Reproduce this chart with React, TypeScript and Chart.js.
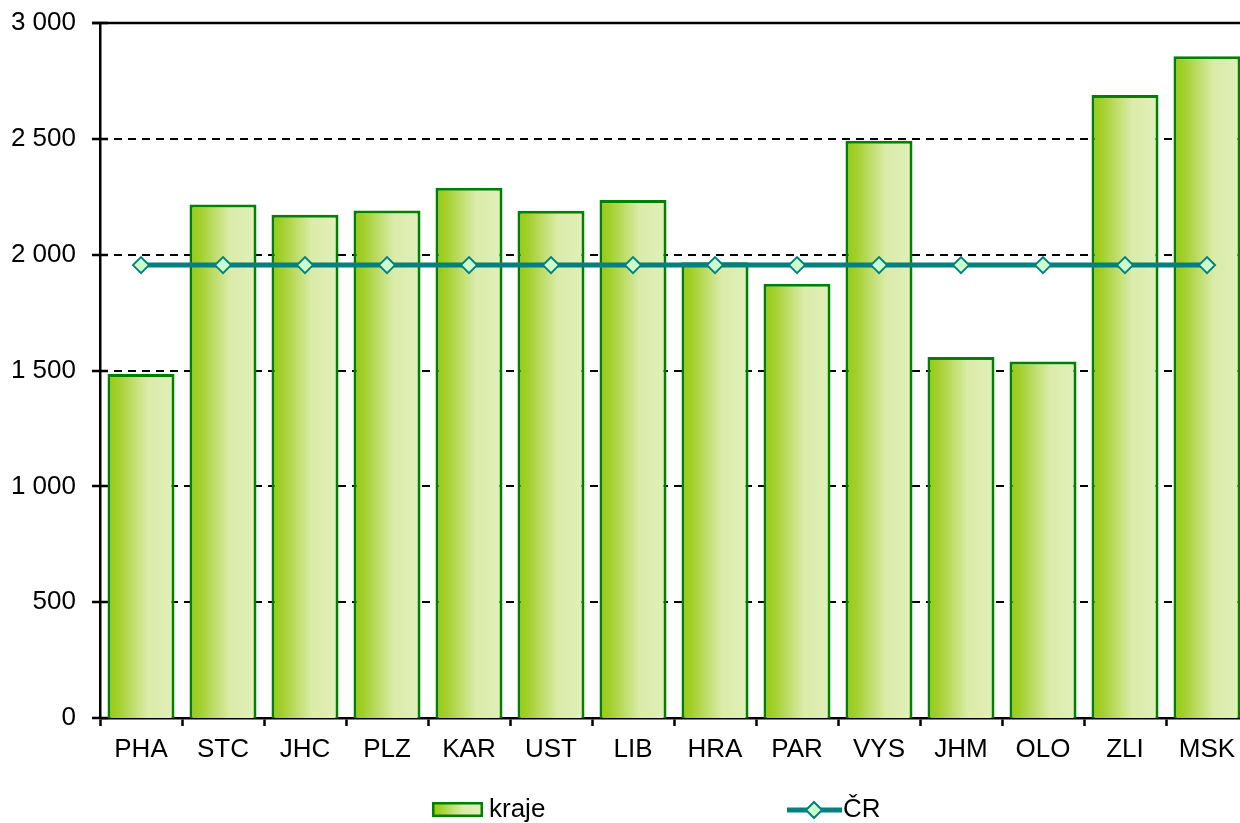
import React, { useEffect, useRef } from "react";
import { Chart, registerables } from "chart.js";

Chart.register(...registerables);

const categories = ["PHA", "STC", "JHC", "PLZ", "KAR", "UST", "LIB", "HRA", "PAR", "VYS", "JHM", "OLO", "ZLI", "MSK"];
const krajeValues = [1485, 2217, 2172, 2191, 2289, 2190, 2236, 1967, 1874, 2492, 1558, 1539, 2689, 2857];
const crValues = [1955, 1955, 1955, 1955, 1955, 1955, 1955, 1955, 1955, 1955, 1955, 1955, 1955, 1955];
const yTicks = [0, 500, 1000, 1500, 2000, 2500, 3000];
const seriesLabels = ["kraje", "ČR"];

const FONT = "'Liberation Sans', Arial, sans-serif";
const BAR_PCT = 0.817;
const GRAD_STOPS: [number, string][] = [
  [0, "#98CA10"],
  [0.15, "#A2CF2A"],
  [0.6, "#DAEBAA"],
  [1, "#E2F0B8"],
];

const fmt = (v: number) => String(v).replace(/\B(?=(\d{3})+(?!\d))/g, " ");

function makeGrad(c: CanvasRenderingContext2D, x0: number, x1: number) {
  const g = c.createLinearGradient(x0, 0, x1, 0);
  GRAD_STOPS.forEach(([o, col]) => g.addColorStop(o, col));
  return g;
}

const customPlugin = {
  id: "custom",
  beforeDatasetsDraw(chart: any) {
    const c: CanvasRenderingContext2D = chart.ctx;
    const ys = chart.scales.y;
    const { left, right } = chart.chartArea;
    c.save();
    yTicks.forEach((v) => {
      const py = Math.round(ys.getPixelForValue(v));
      if (v > 0 && v < 3000) {
        c.beginPath();
        c.setLineDash([8, 6]);
        c.lineWidth = 2;
        c.strokeStyle = "#000";
        c.moveTo(left, py);
        c.lineTo(right, py);
        c.stroke();
      } else if (v === 3000) {
        c.beginPath();
        c.setLineDash([]);
        c.lineWidth = 2.5;
        c.strokeStyle = "#000";
        c.moveTo(left - 8, py);
        c.lineTo(right, py);
        c.stroke();
      }
      c.beginPath();
      c.setLineDash([]);
      c.lineWidth = 2.5;
      c.strokeStyle = "#000";
      c.moveTo(left - 8, py);
      c.lineTo(left + 8, py);
      c.stroke();
    });
    c.restore();
  },
  afterDraw(chart: any) {
    const c: CanvasRenderingContext2D = chart.ctx;
    c.save();
    // kraje legend
    const bx = 432, by = 802, bw = 51, bh = 15;
    c.fillStyle = makeGrad(c, bx, bx + bw);
    c.fillRect(bx, by, bw, bh);
    c.lineWidth = 2.5;
    c.strokeStyle = "#008000";
    c.strokeRect(bx + 1.25, by + 1.25, bw - 2.5, bh - 2.5);
    c.fillStyle = "#000";
    c.font = `26px ${FONT}`;
    c.textBaseline = "middle";
    c.textAlign = "left";
    c.fillText(seriesLabels[0], 489, 810);
    // CR legend
    c.beginPath();
    c.lineWidth = 5;
    c.strokeStyle = "#008080";
    c.moveTo(787, 810);
    c.lineTo(842, 810);
    c.stroke();
    const dx = 814, dy = 810, r = 8;
    c.beginPath();
    c.moveTo(dx - r, dy);
    c.lineTo(dx, dy - r);
    c.lineTo(dx + r, dy);
    c.lineTo(dx, dy + r);
    c.closePath();
    c.fillStyle = "#CCFFCC";
    c.fill();
    c.lineWidth = 2;
    c.strokeStyle = "#008080";
    c.stroke();
    c.fillStyle = "#000";
    c.fillText(seriesLabels[1], 843, 810);
    c.restore();
  },
};

export default function App() {
  const ref = useRef<HTMLCanvasElement>(null);
  useEffect(() => {
    if (!ref.current) return;
    Chart.defaults.font.family = FONT;
    const chart = new Chart(ref.current, {
      type: "bar",
      data: {
        labels: categories,
        datasets: [
          {
            type: "line",
            label: seriesLabels[1],
            data: crValues,
            borderColor: "#008080",
            borderWidth: 5,
            pointStyle: "rectRot",
            pointRadius: 8,
            pointBorderWidth: 2,
            pointBackgroundColor: "#CCFFCC",
            pointBorderColor: "#008080",
            fill: false,
            tension: 0,
            order: 1,
          } as any,
          {
            type: "bar",
            label: seriesLabels[0],
            data: krajeValues,
            borderColor: "#008000",
            borderWidth: 3,
            barPercentage: BAR_PCT,
            categoryPercentage: 1,
            order: 2,
            backgroundColor: (ctx: any) => {
              const ch = ctx.chart;
              if (!ch.chartArea || ctx.dataIndex === undefined) return "#C0DD70";
              const xs = ch.scales.x;
              const cx = xs.getPixelForValue(ctx.dataIndex);
              const w = (xs.width / categories.length) * BAR_PCT;
              return makeGrad(ch.ctx, cx - w / 2, cx + w / 2);
            },
          } as any,
        ],
      },
      options: {
        animation: false,
        responsive: false,
        devicePixelRatio: 1,
        layout: { padding: { top: 23, right: 22, bottom: 0, left: 0 } },
        plugins: {
          legend: { display: false },
          title: { display: false },
          tooltip: { enabled: false },
        },
        scales: {
          x: {
            type: "category",
            offset: true,
            grid: {
              display: true,
              offset: true,
              drawOnChartArea: false,
              drawTicks: true,
              tickLength: 8,
              tickColor: "#000",
              tickWidth: 2.5,
            },
            border: { display: true, color: "#000", width: 2.5 },
            ticks: {
              color: "#000",
              font: { size: 26, family: FONT },
              padding: 8,
              maxRotation: 0,
              autoSkip: false,
            },
            afterFit: (s: any) => {
              s.height = 105;
              s.paddingLeft = 0;
              s.paddingRight = 0;
            },
          },
          y: {
            min: 0,
            max: 3000,
            grid: { display: false, drawTicks: false },
            border: { display: true, color: "#000", width: 2.5 },
            ticks: {
              stepSize: 500,
              color: "#000",
              font: { size: 26, family: FONT },
              padding: 24,
              callback: (v: any) => fmt(Number(v)),
            },
            afterFit: (s: any) => {
              s.width = 100;
              s.paddingTop = 0;
              s.paddingBottom = 0;
            },
          },
        },
      },
      plugins: [customPlugin],
    });
    return () => chart.destroy();
  }, []);
  return (
    <div
      style={{
        position: "fixed",
        left: 0,
        top: 0,
        width: 1240,
        height: 823,
        overflow: "hidden",
        background: "#fff",
      }}
    >
      <canvas ref={ref} width={1270} height={823} style={{ display: "block", width: 1270, height: 823 }} />
    </div>
  );
}
